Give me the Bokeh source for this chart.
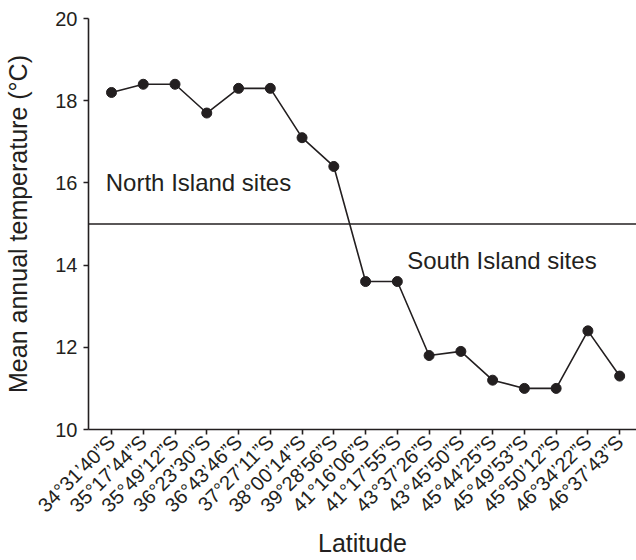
import math
from bokeh.plotting import figure
from bokeh.models import Span, FixedTicker, Range1d
from bokeh.core.properties import value
from bokeh.embed import file_html
from bokeh.resources import INLINE

latitudes = ["34°31’40”S", "35°17’44”S", "35°49’12”S", "36°23’30”S", "36°43’46”S",
             "37°27’11”S", "38°00’14”S", "39°28’56”S", "41°16’06”S", "41°17’55”S",
             "43°37’26”S", "43°45’50”S", "45°44’25”S", "45°49’53”S", "45°50’12”S",
             "46°34’22”S", "46°37’43”S"]
temperature = [18.2, 18.4, 18.4, 17.7, 18.3, 18.3, 17.1, 16.4, 13.6, 13.6,
               11.8, 11.9, 11.2, 11.0, 11.0, 12.4, 11.3]
y_ticks = [10, 12, 14, 16, 18, 20]
divider_temp = 15
FONT = "Liberation Sans"
INK = "#231f20"

xs = list(range(len(latitudes)))

p = figure(width=636, height=560, output_backend="svg", toolbar_location=None,
           x_range=Range1d(-0.724, 16.53), y_range=Range1d(10, 20),
           min_border_left=88, min_border_right=0, min_border_top=18, min_border_bottom=131)
p.outline_line_color = None
p.grid.visible = False
p.background_fill_color = "white"
p.border_fill_color = "white"

p.line(xs, temperature, line_color=INK, line_width=1.6)
p.scatter(xs, temperature, size=10, fill_color=INK, line_color=INK)

p.add_layout(Span(location=divider_temp, dimension="width", line_color=INK, line_width=1.4))

p.text(x=[-0.18], y=[16.0], text=["North Island sites"], text_font=value(FONT),
       text_font_size="24px", text_baseline="middle", text_align="left", text_color=INK)
p.text(x=[9.31], y=[14.1], text=["South Island sites"], text_font=value(FONT),
       text_font_size="24px", text_baseline="middle", text_align="left", text_color=INK)

xa = p.xaxis[0]
xa.ticker = FixedTicker(ticks=xs)
xa.major_label_overrides = {i: lab for i, lab in enumerate(latitudes)}
xa.major_label_orientation = math.pi / 4
xa.axis_label = "Latitude"

ya = p.yaxis[0]
ya.ticker = FixedTicker(ticks=y_ticks)
ya.axis_label = "Mean annual temperature (°C)"

for ax in (xa, ya):
    ax.axis_line_color = INK
    ax.axis_line_width = 1.6
    ax.major_tick_line_color = INK
    ax.major_tick_line_width = 1.6
    ax.major_tick_out = 5
    ax.major_tick_in = 0
    ax.minor_tick_line_color = None
    ax.major_label_text_font = FONT
    ax.major_label_text_font_size = "20px"
    ax.major_label_text_color = INK
    ax.axis_label_text_font = FONT
    ax.axis_label_text_font_size = "25px"
    ax.axis_label_text_font_style = "normal"
    ax.axis_label_text_color = INK

xa.major_label_standoff = 4
xa.axis_label_standoff = 2
ya.major_label_standoff = 6
ya.axis_label_standoff = 20

open("out.html", "w").write(file_html(p, INLINE))
